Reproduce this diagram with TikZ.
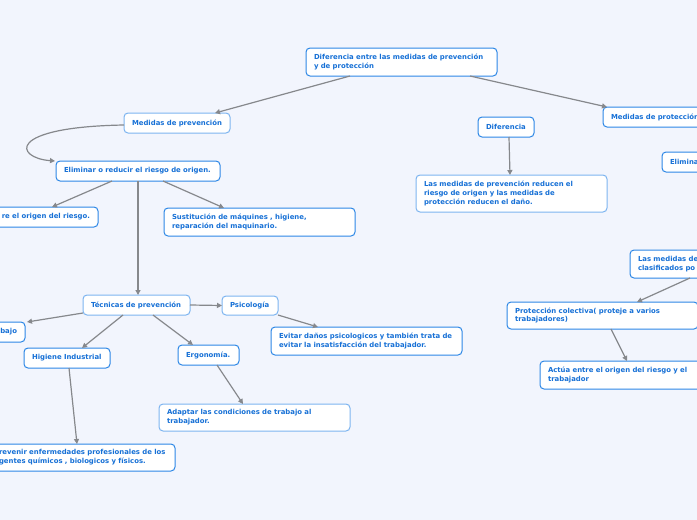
\documentclass[tikz,border=0pt]{standalone}
\usepackage{fontspec}
\setmainfont{DejaVu Sans}
\usetikzlibrary{arrows.meta}
\definecolor{bg}{HTML}{F2F5FD}
\definecolor{tx}{HTML}{1670D6}
\definecolor{bd}{HTML}{2D87E6}
\definecolor{bdl}{HTML}{7DB4F0}
\definecolor{ln}{HTML}{86888C}
\tikzset{
 box/.style={draw=bd, line width=1pt, fill=white, rounded corners=4pt, anchor=north west, inner xsep=8pt, inner ysep=0pt, outer sep=0pt, align=left, font=\fontsize{6.9}{8.8}\selectfont\bfseries, text=tx},
 lbox/.style={draw=bdl},
 conn/.style={draw=ln, line width=1.2pt, -{Triangle[length=5pt,width=5pt]}},
}
\newcommand\bx[6][]{\pgfmathsetmacro\tw{#4-16}\node[box,minimum width=#4pt,minimum height=#5pt,text width=\tw pt,#1] (#2) at (#3) {#6};}
\begin{document}
\begin{tikzpicture}[x=1pt,y=-1pt]
\useasboundingbox (0,0) rectangle (697,520);
\fill[bg] (0,0) rectangle (697,520);
\clip (0,0) rectangle (697,520);
\bx{title}{306,48}{191}{28}{Diferencia entre las medidas de prevención\\y de protección}
\bx[lbox]{mprev}{124,113}{106}{20}{Medidas de prevención}
\bx{mprot}{603,107}{120}{20}{Medidas de protección}
\bx{dif}{478,117}{56}{20}{Diferencia}
\bx{elim}{56,161}{164}{20}{Eliminar o reducir el riesgo de origen.}
\bx[lbox]{lasmed}{416,175}{191}{37}{Las medidas de prevención reducen el\\riesgo de origen y las medidas de\\protección reducen el daño.}
\bx{elimb}{662,152}{60}{20}{Elimina}
\bx[align=right]{origen}{-40,207}{138}{20}{re el origen del riesgo.}
\bx{sust}{164,208}{191}{28}{Sustitución de máquines , higiene,\\reparación del maquinario.}
\bx[lbox]{tec}{83,295}{107}{20}{Técnicas de prevención}
\bx[lbox]{psi}{222,296}{56}{19}{Psicología}
\bx[align=right]{bajo}{-40,322}{65}{20}{bajo}
\bx{hig}{24,348}{86}{20}{Higiene Industrial}
\bx{erg}{178,345}{61}{20}{Ergonomía.}
\bx{evit}{271,327}{191}{28}{Evitar daños psicologicos y también trata de\\evitar la insatisfacción del trabajador.}
\bx[lbox]{adap}{159,404}{191}{27}{Adaptar las condiciones de trabajo al\\trabajador.}
\bx{prev}{-9,444}{184}{27}{revenir enfermedades profesionales de los\\gentes químicos , biologicos y físicos.}
\bx{lasclas}{630,250}{120}{28}{Las medidas de\\clasificados po}
\bx{pcol}{507,302}{191}{27}{Protección colectiva( proteje a varios\\trabajadores)}
\bx{act}{540,361}{191}{28}{Actúa entre el origen del riesgo y el\\trabajador}
% connectors
\draw[conn] ([xshift=44pt]title.south west) -- ([xshift=91pt]mprev.north west);
\draw[conn] ([xshift=164pt]title.south west) -- ([xshift=4pt]mprot.north west);
\draw[conn] ([yshift=-2pt]mprev.west) .. controls (5,127) and (15,158) .. ([xshift=-1pt]elim.north west);
\draw[conn] ([xshift=56pt]elim.south west) -- ([xshift=92pt]origen.north west);
\draw[conn] ([xshift=82pt]elim.south west) -- ([xshift=55pt]tec.north west);
\draw[conn] ([xshift=107pt]elim.south west) -- ([xshift=60pt]sust.north west);
\draw[conn] ([xshift=31pt]dif.south west) -- ([xshift=94pt]lasmed.north west);
\draw[conn] ([yshift=2pt]tec.south west) -- ([xshift=2pt]bajo.north east);
\draw[conn] ([xshift=40pt]tec.south west) -- ([xshift=58pt]hig.north west);
\draw[conn] ([xshift=70pt]tec.south west) -- ([xshift=15pt]erg.north west);
\draw[conn] (tec.east) -- (psi.west);
\draw[conn] (psi.south east) -- ([xshift=47pt]evit.north west);
\draw[conn] ([xshift=45pt]hig.south west) -- ([xshift=86pt]prev.north west);
\draw[conn] ([xshift=39pt]erg.south west) -- ([xshift=84pt]adap.north west);
\draw[conn] ([xshift=60pt]lasclas.south west) -- ([xshift=130pt]pcol.north west);
\draw[conn] ([xshift=104pt]pcol.south west) -- ([xshift=87pt]act.north west);
\end{tikzpicture}
\end{document}
